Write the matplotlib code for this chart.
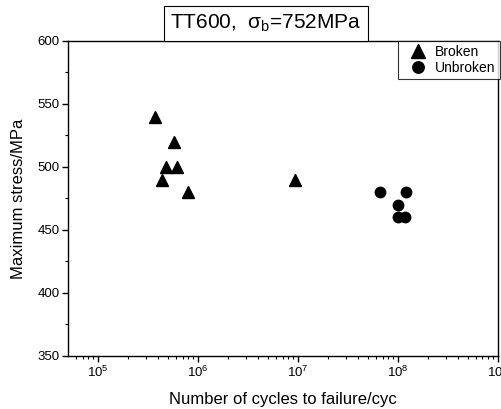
import matplotlib
matplotlib.use("Agg")
import matplotlib.pyplot as plt
from matplotlib.ticker import LogLocator, MultipleLocator

plt.rcParams['font.family'] = ['Liberation Sans', 'DejaVu Sans']
plt.rcParams['mathtext.fontset'] = 'custom'
plt.rcParams['mathtext.rm'] = 'Liberation Sans'
plt.rcParams['mathtext.it'] = 'Liberation Sans'

# data
broken_cycles = [3.7e5, 5.75e5, 4.8e5, 6.2e5, 4.4e5, 7.9e5, 9.3e6]
broken_stress = [540, 520, 500, 500, 490, 480, 490]
unbroken_cycles = [6.6e7, 1.2e8, 1.0e8, 1.0e8, 1.17e8]
unbroken_stress = [480, 480, 470, 460, 460]

fig = plt.figure(figsize=(5.02, 4.09), dpi=100)
ax = fig.add_axes([0.1355, 0.1296, 0.8565, 0.7702])

ax.plot(broken_cycles, broken_stress, '^', color='black', ms=9, ls='none', label='Broken')
ax.plot(unbroken_cycles, unbroken_stress, 'o', color='black', ms=7.5, ls='none', label='Unbroken')

ax.set_xscale('log')
ax.set_xlim(10**4.7, 1e9)
ax.set_ylim(350, 600)
ax.xaxis.set_major_locator(LogLocator(base=10, numticks=10))
ax.xaxis.set_minor_locator(LogLocator(base=10, subs=range(2, 10), numticks=20))
ax.yaxis.set_major_locator(MultipleLocator(50))
ax.yaxis.set_minor_locator(MultipleLocator(25))
ax.tick_params(which='both', direction='out', top=False, right=False, labelsize=9.5)
ax.tick_params(which='major', length=4, width=1, pad=2)
ax.tick_params(which='minor', length=2.5, width=0.8)

for s in ax.spines.values():
    s.set_linewidth(1)

ax.set_xlabel('Number of cycles to failure/cyc', fontsize=12, labelpad=9)
ax.set_ylabel('Maximum stress/MPa', fontsize=12, labelpad=8)

leg = ax.legend(loc='upper right', bbox_to_anchor=(1.004, 1.0), fontsize=10,
                frameon=True, fancybox=False, edgecolor='black', borderaxespad=0,
                handletextpad=0.1, borderpad=0.3, labelspacing=0.1,
                handlelength=2.3, markerscale=1.1)
leg.get_frame().set_linewidth(0.8)

fig.text(0.53, 0.943, r'TT600,  $\sigma_{\mathrm{b}}$=752MPa', ha='center', va='center',
         fontsize=15,
         bbox=dict(boxstyle='square,pad=0.32', facecolor='white', edgecolor='black', linewidth=0.8))

fig.savefig('out.png', dpi=100)
